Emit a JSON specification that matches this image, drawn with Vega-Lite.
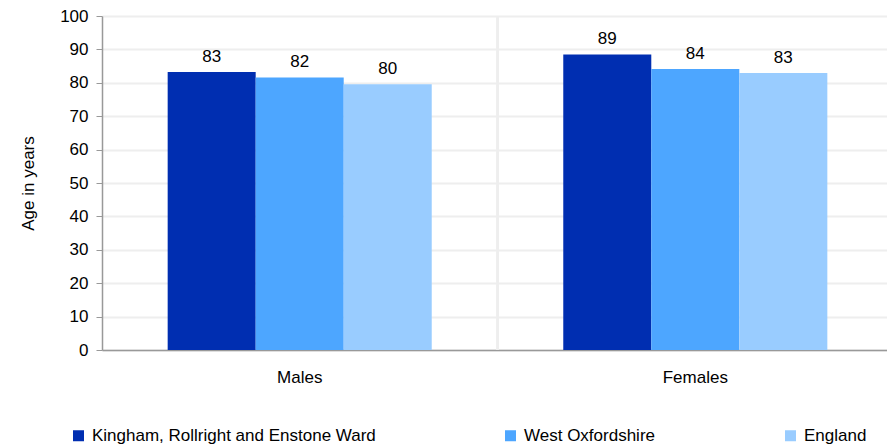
{
  "$schema": "https://vega.github.io/schema/vega-lite/v6.json",
  "autosize": "none",
  "width": 791,
  "height": 334,
  "padding": {"left": 102, "top": 16, "right": 0, "bottom": 97},
  "background": "white",
  "config": {
    "font": "Liberation Sans",
    "view": {"stroke": null}
  },
  "data": {
    "values": [
      {"sex": "Males", "area": "Kingham, Rollright and Enstone Ward", "age": 83.2},
      {"sex": "Males", "area": "West Oxfordshire", "age": 81.6},
      {"sex": "Males", "area": "England", "age": 79.6},
      {"sex": "Females", "area": "Kingham, Rollright and Enstone Ward", "age": 88.5},
      {"sex": "Females", "area": "West Oxfordshire", "age": 84.1},
      {"sex": "Females", "area": "England", "age": 82.9}
    ]
  },
  "encoding": {
    "x": {
      "field": "sex",
      "type": "nominal",
      "sort": ["Males", "Females"],
      "scale": {"paddingInner": 0.3325, "paddingOuter": 0.166},
      "axis": {
        "title": null,
        "labelAngle": 0,
        "labelFontSize": 17,
        "labelColor": "#000000",
        "labelPadding": 19,
        "ticks": false,
        "grid": false,
        "domainColor": "#999999",
        "domainWidth": 1.5
      }
    },
    "y": {
      "field": "age",
      "type": "quantitative",
      "scale": {"domain": [0, 100]},
      "axis": {
        "title": "Age  in years",
        "titleFontSize": 17,
        "titleFontWeight": "normal",
        "titleColor": "#000000",
        "titlePadding": 22,
        "values": [0, 10, 20, 30, 40, 50, 60, 70, 80, 90, 100],
        "labelFontSize": 17,
        "labelColor": "#000000",
        "labelPadding": 8,
        "tickSize": 6,
        "tickColor": "#999999",
        "domainColor": "#999999",
        "domainWidth": 1.5,
        "gridColor": "#eeeeee",
        "gridWidth": 2
      }
    }
  },
  "layer": [
    {
      "mark": {"type": "rule", "color": "#eeeeee", "strokeWidth": 2},
      "encoding": {
        "x": {"datum": "Females", "bandPosition": -0.249},
        "y": {"datum": 0},
        "y2": {"datum": 100}
      }
    },
    {
      "mark": {"type": "bar"},
      "encoding": {
        "xOffset": {"field": "area", "type": "nominal", "sort": ["Kingham, Rollright and Enstone Ward", "West Oxfordshire", "England"], "scale": {"paddingInner": 0, "paddingOuter": 0}},
        "color": {
          "field": "area",
          "type": "nominal",
          "sort": ["Kingham, Rollright and Enstone Ward", "West Oxfordshire", "England"],
          "scale": {
            "domain": ["Kingham, Rollright and Enstone Ward", "West Oxfordshire", "England"],
            "range": ["#002EB1", "#4DA6FF", "#99CCFF"]
          },
          "legend": {
            "title": null,
            "orient": "none",
            "direction": "horizontal",
            "legendX": -32,
            "legendY": 411,
            "symbolType": "square",
            "symbolSize": 121,
            "symbolStrokeWidth": 0,
            "labelFontSize": 17,
            "labelColor": "#000000",
            "labelLimit": 400,
            "labelOffset": 5,
            "columnPadding": 126
          }
        }
      }
    },
    {
      "mark": {"type": "text", "baseline": "bottom", "dy": -6, "fontSize": 17, "color": "#000000"},
      "encoding": {
        "xOffset": {"field": "area", "type": "nominal", "sort": ["Kingham, Rollright and Enstone Ward", "West Oxfordshire", "England"], "scale": {"paddingInner": 0, "paddingOuter": 0}},
        "text": {"field": "age", "type": "quantitative", "format": ".0f"}
      }
    }
  ]
}
